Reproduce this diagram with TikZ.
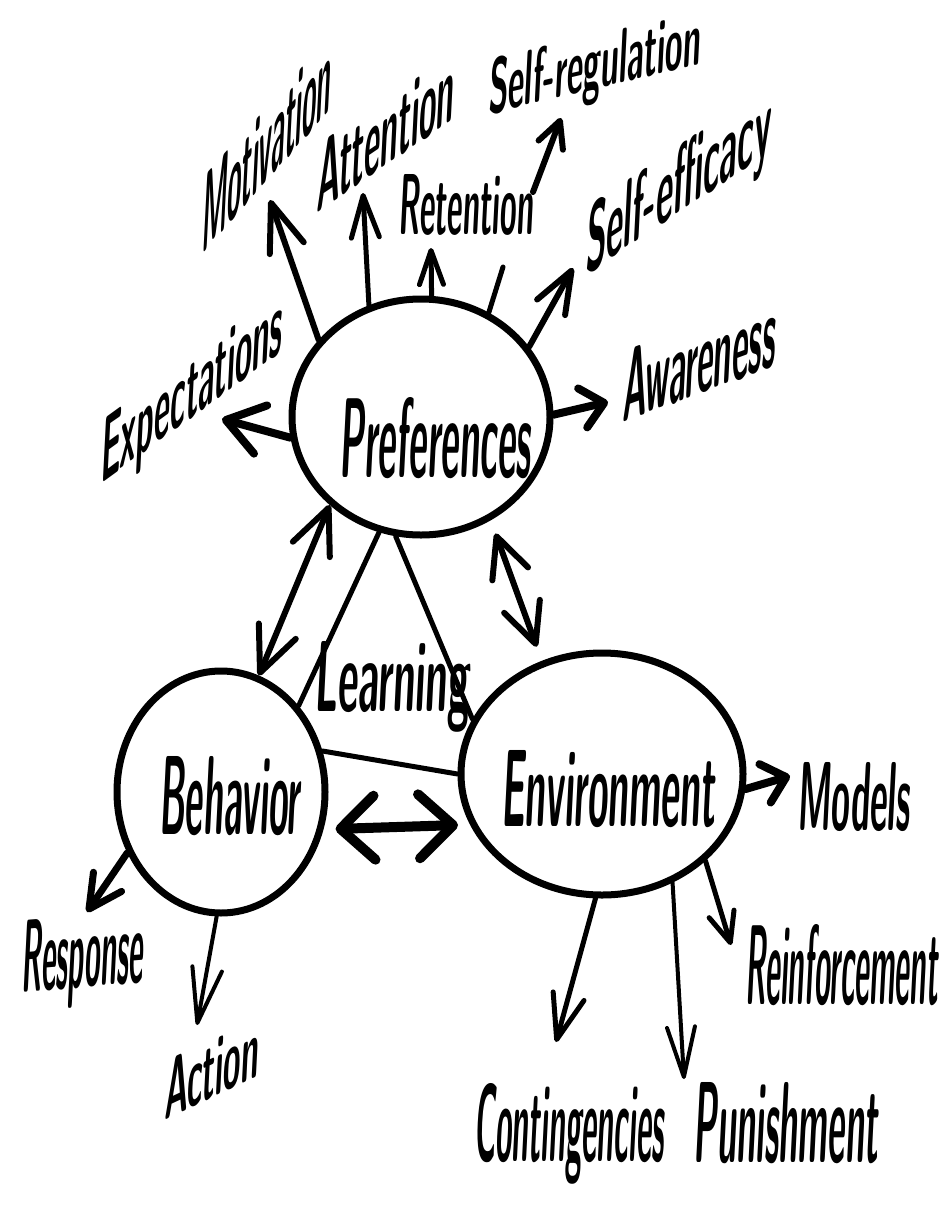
\documentclass[tikz,border=0pt]{standalone}
\usepackage{fontspec}
\usepackage{graphicx}
\usetikzlibrary{arrows.meta,shapes.geometric}
\newcommand\hw[3]{\resizebox{#1pt}{#2pt}{\sffamily\bfseries #3}}
\tikzset{
  bub/.style={draw, ellipse, inner sep=0pt, line width=7pt},
  lbl/.style={inner sep=0pt, outer sep=0pt, anchor=base west},
  con/.style={line width=#1, line cap=round, line join=round},
  con/.default=5pt,
  ah/.style 2 args={arrows={-Straight Barb[length=#1pt,width=#2pt,round]}},
  dah/.style 2 args={arrows={Straight Barb[length=#1pt,width=#2pt,round]-Straight Barb[length=#1pt,width=#2pt,round]}}
}
\begin{document}
\begin{tikzpicture}[x=1pt,y=-1pt]
\useasboundingbox (0,0) rectangle (947,1218);
\fill[white] (0,0) rectangle (947,1218);
% bubbles
\node[bub, minimum width=258pt, minimum height=236pt] (pref) at (421,417) {};
\node[bub, minimum width=208pt, minimum height=242pt] (beh) at (221,792) {};
\node[bub, minimum width=282pt, minimum height=242pt] (env) at (602,774) {};
% labels
\node[lbl, cm={1,0,0.05,1,(0,0)}] (lPref) at (339,477) {\hw{192}{80}{Preferences}};
\node[lbl, cm={1,0,0.05,1,(0,0)}] (lBeh) at (159,834) {\hw{141}{78}{Behavior}};
\node[lbl, cm={1,0,0.05,1,(0,0)}] (lEnv) at (501,826) {\hw{214}{76}{Environment}};
\node[lbl, cm={1,0,0.05,1,(0,0)}] (lLearn) at (314,711) {\hw{155}{70}{Learning}};
\node[lbl, cm={0.665,0.747,0.05,1,(0,0)}] (lMot) at (201,255) {\hw{194}{80}{Motivation}};
\node[lbl, cm={0.827,0.562,0.05,1,(0,0)}] (lAtt) at (316,213) {\hw{166}{70}{Attention}};
\node[lbl, cm={1,0,0.05,1,(0,0)}] (lRet) at (398,234) {\hw{135}{60}{Retention}};
\node[lbl, cm={0.973,0.230,0.05,1,(0,0)}] (lReg) at (488,114) {\hw{218}{56}{Self-regulation}};
\node[lbl, cm={0.833,0.553,0.05,1,(0,0)}] (lEff) at (585,275) {\hw{222}{70}{Self-efficacy}};
\node[lbl, cm={0.939,0.344,0.05,1,(0,0)}] (lAwa) at (622,422) {\hw{163}{72}{Awareness}};
\node[lbl, cm={0.809,0.588,0.05,1,(0,0)}] (lExp) at (100,484) {\hw{225}{65}{Expectations}};
\node[lbl, cm={1,0,0.05,1,(0,0)}] (lMod) at (797,830) {\hw{113}{68}{Models}};
\node[lbl, cm={1,0,0.05,1,(0,0)}] (lRei) at (745,1004) {\hw{193}{80}{Reinforcement}};
\node[lbl, cm={1,0,0.05,1,(0,0)}] (lPun) at (693,1162) {\hw{185}{80}{Punishment}};
\node[lbl, cm={1,0,0.05,1,(0,0)}] (lCon) at (474,1161) {\hw{190}{78}{Contingencies}};
\node[lbl, cm={0.997,0.082,0.05,1,(0,0)}] (lRes) at (21,992) {\hw{123}{72}{Response}};
\node[lbl, cm={0.906,0.423,0.05,1,(0,0)}] (lAct) at (164,1120) {\hw{104}{60}{Action}};
% free ends of arrows
\coordinate (tExp) at (222,419);
\coordinate (tMot) at (270,200);
\coordinate (tAtt) at (363,193);
\coordinate (tRet) at (431,248);
\coordinate (sStub) at (503,267);
\coordinate (sReg) at (533,192);
\coordinate (tReg) at (561,118);
\coordinate (tEff) at (573,268);
\coordinate (tAwa) at (608,402);
\coordinate (tMod) at (790,776);
\coordinate (tRei) at (731,945);
\coordinate (tPun) at (684,1079);
\coordinate (tCon) at (556,1042);
\coordinate (tRes) at (87,912);
\coordinate (tAct) at (197,1025);
% Preferences outgoing
\draw[con=8pt, ah={36}{50}] (pref.189) -- (tExp);
\draw[con=6pt, ah={48}{36}] (pref.143) -- (tMot);
\draw[con=5pt, ah={42}{28}] (pref.115) -- (tAtt);
\draw[con=5pt, ah={34}{24}] (pref.85) -- (tRet);
\draw[con=5pt] (pref.57) -- (sStub);
\draw[con=6pt, ah={26}{26}] (sReg) -- (tReg);
\draw[con=6pt, ah={42}{32}] (pref.33) -- (tEff);
\draw[con=8pt, ah={22}{40}] (pref.1) -- (tAwa);
% relations
\draw[con=6pt, dah={45}{40}] (beh.72) -- (pref.224);
\draw[con=6pt, dah={40}{38}, shorten <=14pt, shorten >=15pt] (pref.-56) -- (env.118);
\draw[con=10pt, dah={34}{64}, shorten <=12pt, shorten >=12pt] (beh.-20) -- (env.201);
% learning triangle
\draw[con=5pt] (pref.250) -- (beh.48);
\draw[con=5pt] (pref.258) -- (env.157);
\draw[con=5pt] (beh.22) -- (env.180);
% Environment outgoing
\draw[con=8pt, ah={22}{40}] (env.-6) -- (tMod);
\draw[con=5pt, ah={30}{26}] (env.-40) -- (tRei);
\draw[con=4pt, ah={50}{28}] (env.-57) -- (tPun);
\draw[con=5pt, ah={45}{32}] (env.267) -- (tCon);
% Behavior outgoing
\draw[con=7pt, ah={33}{34}] (beh.213) -- (tRes);
\draw[con=4pt, ah={55}{30}] (beh.268) -- (tAct);
\end{tikzpicture}
\end{document}
